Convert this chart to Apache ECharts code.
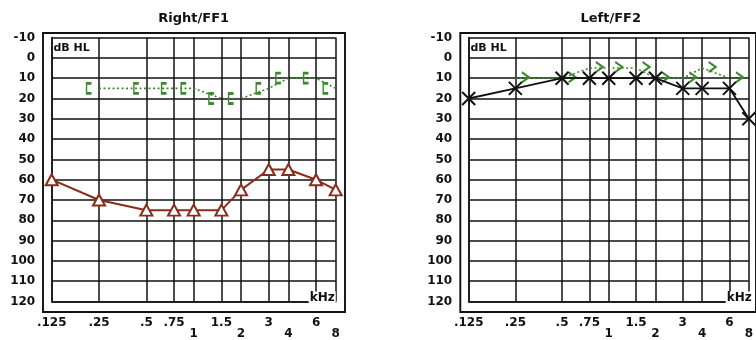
<!DOCTYPE html>
<html>
<head>
<meta charset="utf-8">
<script src="https://cdn.jsdelivr.net/npm/echarts@6/dist/echarts.min.js"></script>
<style>
html,body{margin:0;padding:0;background:#fff;}
#c{width:756px;height:340px;}
</style>
</head>
<body>
<div id="c"></div>
<script>
// ---- data ----
const freqs = [0.125, 0.25, 0.5, 0.75, 1, 1.5, 2, 3, 4, 6, 8];
const freqTickLabels = ['.125', '.25', '.5', '.75', '1', '1.5', '2', '3', '4', '6', '8'];
const lowerRowLabels = ['1', '2', '4', '8'];
const titles = ['Right/FF1', 'Left/FF2'];

// Right / FF1
const rightAirFreqs = [0.125, 0.25, 0.5, 0.75, 1, 1.5, 2, 3, 4, 6, 8];
const rightAir = [60, 70, 75, 75, 75, 75, 65, 55, 55, 60, 65];
const rightBoneFreqs = [0.25, 0.5, 0.75, 1, 1.5, 2, 3, 4, 6, 8];
const rightBone = [15, 15, 15, 15, 20, 20, 15, 10, 10, 15];

// Left / FF2
const leftAirFreqs = [0.125, 0.25, 0.5, 0.75, 1, 1.5, 2, 3, 4, 6, 8];
const leftAir = [20, 15, 10, 10, 10, 10, 10, 15, 15, 15, 30];
const leftBoneFreqs = [0.25, 0.5, 0.75, 1, 1.5, 2, 3, 4, 6];
const leftBone = [10, 10, 5, 5, 5, 10, 10, 5, 10];

// ---- styling ----
const FONT = 'DejaVu Sans';
const INK = '#111111';
const RED = '#8b2b1c';
const GREEN = '#3b8a2b';
const GRIDW = 1.5;

function zip(xs, ys) { return xs.map((x, i) => [x, ys[i]]); }
function fmtFreq(v) {
  let best = 0;
  freqs.forEach((f, i) => { if (Math.abs(f - v) < Math.abs(freqs[best] - v)) best = i; });
  const s = freqTickLabels[best];
  return lowerRowLabels.indexOf(s) >= 0 ? '\n' + s : s;
}

const panels = [
  { outerLeft: 43, innerLeft: 51.7 },
  { outerLeft: 460.3, innerLeft: 468.7 }
];

const grid = [], xAxis = [], yAxis = [], title = [];
panels.forEach((p, k) => {
  grid.push({ left: p.outerLeft, top: 33, width: 302, height: 279, show: true,
    borderColor: INK, borderWidth: 1.9, backgroundColor: 'rgba(0,0,0,0)' });
  grid.push({ left: p.innerLeft, top: 37.6, width: 284, height: 265.4, show: false });
  xAxis.push({ gridIndex: 2 * k, type: 'value', show: false, min: 0, max: 1 });
  yAxis.push({ gridIndex: 2 * k, type: 'value', show: false, min: 0, max: 1 });
  xAxis.push({
    gridIndex: 2 * k + 1, type: 'log', logBase: 2, min: 0.125, max: 8,
    axisLine: { show: true, onZero: false, lineStyle: { color: INK, width: GRIDW } },
    axisTick: { show: false, customValues: freqs },
    splitLine: { show: true, customValues: freqs, lineStyle: { color: INK, width: GRIDW } },
    axisLabel: { customValues: freqs, margin: 16, fontFamily: FONT, fontWeight: 'bold',
      fontSize: 12, color: INK, lineHeight: 11, formatter: fmtFreq }
  });
  yAxis.push({
    gridIndex: 2 * k + 1, type: 'value', inverse: true, min: -10, max: 120, interval: 10,
    axisLine: { show: true, onZero: false, lineStyle: { color: INK, width: GRIDW } },
    axisTick: { show: false },
    splitLine: { show: true, lineStyle: { color: INK, width: GRIDW } },
    axisLabel: { margin: 16.5, fontFamily: FONT, fontWeight: 'bold', fontSize: 12, color: INK }
  });
  title.push({ text: titles[k], left: p.innerLeft + 142, top: 12, textAlign: 'center', padding: 0,
    textStyle: { fontFamily: FONT, fontWeight: 'bold', fontSize: 13, color: INK } });
  title.push({ text: 'dB HL', left: p.innerLeft + 1.8, top: 42.5, padding: 0,
    textStyle: { fontFamily: FONT, fontWeight: 'bold', fontSize: 11, color: INK } });
  title.push({ text: 'kHz', left: p.innerLeft + 257, top: 292, padding: [0, 1, 0, 1],
    backgroundColor: '#ffffff',
    textStyle: { fontFamily: FONT, fontWeight: 'bold', fontSize: 12, lineHeight: 11, color: INK } });
});

const series = [
  { type: 'line', xAxisIndex: 1, yAxisIndex: 1, data: zip(rightBoneFreqs, rightBone),
    symbol: 'path://M4,0L0,0L0,10L4,10', symbolSize: [5, 10], symbolOffset: [-10, 0], symbolKeepAspect: false,
    itemStyle: { color: 'rgba(0,0,0,0)', borderColor: GREEN, borderWidth: 2 },
    lineStyle: { color: GREEN, width: 1.6, type: [2, 2.5] }, clip: false, z: 3 },
  { type: 'line', xAxisIndex: 1, yAxisIndex: 1, data: zip(rightAirFreqs, rightAir),
    symbol: 'triangle', symbolSize: [12, 11],
    itemStyle: { color: '#ffffff', borderColor: RED, borderWidth: 2 },
    lineStyle: { color: RED, width: 2 }, clip: false, z: 4 },
  { type: 'line', xAxisIndex: 3, yAxisIndex: 3, data: zip(leftBoneFreqs, leftBone),
    symbol: 'path://M0,0L6,5L0,10', symbolSize: [7, 10], symbolOffset: [10, -1], symbolKeepAspect: false,
    itemStyle: { color: 'rgba(0,0,0,0)', borderColor: GREEN, borderWidth: 2 },
    lineStyle: { color: GREEN, width: 1.6, type: [2, 2.5] }, clip: false, z: 3 },
  { type: 'line', xAxisIndex: 3, yAxisIndex: 3, data: zip(leftAirFreqs, leftAir),
    symbol: 'path://M0,0L10,10M0,10L10,0', symbolSize: 13,
    itemStyle: { color: 'rgba(0,0,0,0)', borderColor: INK, borderWidth: 2 },
    lineStyle: { color: INK, width: 1.8 }, clip: false, z: 4 }
];

const chart = echarts.init(document.getElementById('c'), null, { renderer: 'canvas' });
chart.setOption({ animation: false, backgroundColor: '#ffffff', title, grid, xAxis, yAxis, series });
</script>
</body>
</html>
